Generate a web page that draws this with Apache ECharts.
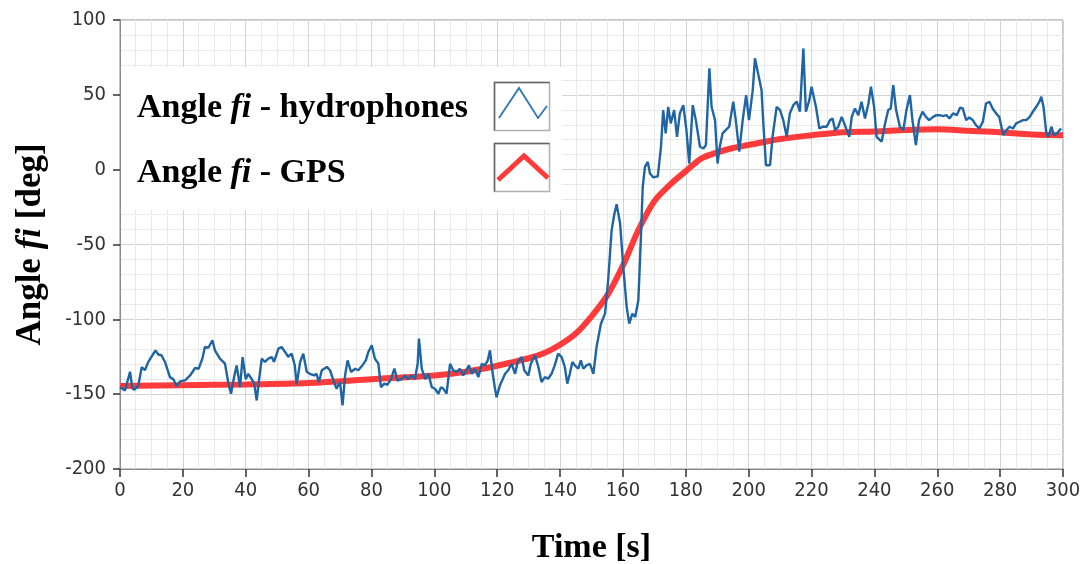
<!DOCTYPE html>
<html>
<head>
<meta charset="utf-8">
<script src="https://cdn.jsdelivr.net/npm/echarts@6/dist/echarts.min.js"></script>
<style>html,body{margin:0;padding:0;background:#fff;}#chart{width:1086px;height:564px;}</style>
</head>
<body>
<div id="chart"></div>
<script>
// ---- Data ----
var xTicks = [0, 20, 40, 60, 80, 100, 120, 140, 160, 180, 200, 220, 240, 260, 280, 300];
var yTicks = [-200, -150, -100, -50, 0, 50, 100];

var hydroT = [0,1.6,3.2,3.9,4.6,5.8,6.9,7.9,9,10.6,11.3,12.2,13.2,14.3,15.9,17,18,19.1,20.7,22.3,23.9,25,26.2,27,28.1,29.4,30.2,31.8,33.4,34.5,35.3,36.4,37.1,38.2,39,40,40.8,41.9,42.7,43.5,44.2,45.1,46.1,47.2,48.3,49,50.4,51.4,52.5,53.5,54.6,55.6,56.2,57.3,58.3,59.4,60.4,61.8,
62.5,63.3,64.2,65.8,66.8,67.9,68.9,70,70.8,71.6,72.4,73.5,74.8,75.8,77.1,78.2,79,80.1,81.1,82.2,83,84.1,85.1,86.2,87.3,88.3,89.6,90.7,91.7,92.8,93.8,94.7,95.1,96,97.1,98.1,99.2,100.2,101.3,102.1,102.9,103.9,105,106,107.1,108.1,109.2,110.2,111,111.9,112.9,114,115.1,116.1,117,117.7,118.5,119.3,119.8,
120.9,122.5,123.5,124.6,125.7,126.5,127.8,128.6,129.9,130.7,132,133.1,134.1,135.2,136.2,137.3,138.3,139.4,140.5,141.5,142.3,143.1,143.9,144.7,145.8,146.6,147.4,148.4,149.5,150.6,151.6,153,154.3,155.3,156.4,157.3,158,159.1,160.1,161.2,162,163,163.9,164.9,165.6,166.3,167,167.9,168.6,169.7,171.1,172.1,172.8,173.6,174.4,175.2,176.3,177.2,178.1,179.2,180.2,181.1,
182.2,183.2,184.5,185.6,186.4,187.5,188.2,189.3,190.1,190.8,191.7,192.7,193.8,195.1,195.9,197,198.1,199.2,200.1,201.3,202,203.1,204.1,204.6,205.5,206.8,207.6,208.9,210,211,212.1,213.1,214.2,215.3,216.3,217.4,218.2,219.3,220,221.4,222.5,223.5,224.8,225.9,226.7,227.5,228.5,229.6,230.4,231.2,232,232.8,233.8,234.9,235.9,237,238.1,238.9,239.9,240.7,242.3,
243.4,244.4,245.2,246,246.9,248.1,249.2,250.2,251.3,252.1,253.2,254.2,255.3,256.4,257.4,258.7,259.7,260.8,261.8,262.9,263.9,265,266.2,267.3,268.1,269.2,270.2,271.3,272.3,273.4,274.5,275.5,276.6,277.6,278.7,279.7,281,282,283,284.1,285.1,286.2,287.3,288.3,289.4,290.4,291.5,292.5,293.1,293.8,294.7,295.4,296.3,297.1,298.1,298.9,299.4];

var hydroV = [-145.3,-147.5,-135,-146,-147,-144.5,-132,-134,-128.5,-123,-120.7,-123.5,-124,-128.5,-138.6,-140,-144.8,-141.5,-140.8,-137.5,-132.5,-133,-126.3,-118.5,-119,-114,-120.7,-126.3,-129.6,-143,-149.7,-137.5,-130.8,-145.3,-125.2,-140,-136.4,-140,-143,-154.2,-141,-126.3,-128.5,-126.3,-125.2,-128.5,-119.6,-118.5,-121.8,-125,-122.9,-130.8,-143.7,-128.5,-122.9,-135,-136.4,-137.5,
-136.4,-141.9,-134,-131.8,-134,-140.8,-146.4,-141.9,-157.5,-137.5,-127.4,-135.2,-133,-134,-130.8,-127.4,-121.8,-117.4,-126.3,-129.6,-145.3,-143,-143.7,-140,-132.9,-141,-140,-137.5,-140,-137.5,-140,-129.7,-112.9,-133,-140,-136.4,-145.3,-146.4,-149.7,-145.3,-146.4,-149.7,-129.7,-134,-135.2,-133,-137.5,-134,-130.8,-136.4,-133,-138.6,-129.7,-130.8,-127.4,-120.7,-135.2,-146.4,-152,
-144,-136.4,-134,-129.7,-136.4,-128.5,-125.2,-134,-137.5,-129.7,-124.1,-131.8,-141.9,-138.6,-139.7,-136.4,-130.8,-122.9,-125.2,-131.8,-143,-136.4,-128.5,-130.8,-133,-127.4,-133,-130.8,-129.7,-136.4,-118.5,-102.9,-96.2,-73.9,-40.5,-29.3,-23.1,-36,-65,-91.8,-102.9,-96.2,-98.5,-87.3,-51.6,-11.5,1.9,5.2,-2.5,-5.2,-4.4,15.3,39.8,24.2,42,30.9,39.8,21.9,37.5,43.1,26.4,4.1,
43.1,33.1,15.3,14.2,16.4,67.7,42,33.1,4.1,15.3,24.2,26.4,28.7,45.4,33.1,12,33.1,49.8,33.1,53.1,74.4,63.2,53.1,33.1,3,3,22,42,39.8,33.1,22,37.6,43.1,45.4,38.7,81,38.7,46.5,55.4,42,27.5,28.7,28.7,33.1,34.2,26.4,28.7,35.3,30.9,26.4,22,35.3,40.9,36.4,45.4,34.2,44.2,55.4,42,21.9,18.7,
30.9,39.8,40.9,56.5,39.8,28.7,26.4,39.8,49.8,33.1,16.4,33.1,38.7,35.3,33.1,35.3,36.4,36.4,35.8,36.4,34.2,37.6,36.4,41.5,40.9,33.1,34.9,33.1,29.8,27.5,32,44.2,45.4,40.9,37.6,35.3,23.1,26.4,28.7,27.5,30.9,32,33.1,33.1,35.3,38.7,42,45.4,48.7,42,24.2,22,28.7,23.1,24.2,26.4,27.5];

var gpsT = [0,20,40,60,80,100,110,120,130,135,140,145,150,155,160,165,170,175,180,185,190,195,200,210,220,230,240,250,260,270,280,290,300];
var gpsV = [-144.5,-144,-143.5,-142.5,-140,-137.5,-135,-131,-126,-122.5,-117,-109.5,-98,-84,-64,-40,-21,-10,-1,7.5,11.5,14.5,16.5,20.5,23,25,25.5,26.5,27,26,25,23.5,23];

var seriesNames = ['Angle fi - hydrophones', 'Angle fi - GPS'];

function pairs(t, v) { var out = []; for (var i = 0; i < t.length; i++) out.push([t[i], v[i]]); return out; }

var serif = '"Liberation Serif", "Times New Roman", serif';
var sans = '"DejaVu Sans Condensed", "Liberation Sans Narrow", "DejaVu Sans", Tahoma, sans-serif';

var chart = echarts.init(document.getElementById('chart'), null, {renderer: 'canvas'});
chart.setOption({
  animation: false,
  backgroundColor: '#ffffff',
  grid: {left: 120, right: 23, top: 20, bottom: 95, containLabel: false, outerBoundsMode: 'none',
         show: true, borderColor: '#8a8a8a', borderWidth: 1, backgroundColor: 'transparent'},
  xAxis: {
    type: 'value', min: xTicks[0], max: xTicks[xTicks.length - 1], interval: 20,
    name: 'Time [s]', nameLocation: 'middle', nameGap: 62,
    nameTextStyle: {fontFamily: serif, fontWeight: 'bold', fontSize: 34, color: '#000'},
    axisLine: {show: true, onZero: false, lineStyle: {color: '#8a8a8a', width: 1}},
    axisTick: {show: true, length: 8, lineStyle: {color: '#333', width: 1.5}},
    axisLabel: {fontFamily: sans, fontSize: 20, color: '#333', margin: 12},
    splitLine: {show: true, lineStyle: {color: '#d3d3d3', width: 1}},
    minorTick: {show: false, splitNumber: 4},
    minorSplitLine: {show: true, lineStyle: {color: '#e9e9e9', width: 1}}
  },
  yAxis: {
    type: 'value', min: yTicks[0], max: yTicks[yTicks.length - 1], interval: 50,
    name: '{t|Angle }{i|fi}{t| [deg]}', nameLocation: 'middle', nameGap: 72, nameRotate: 90,
    nameTextStyle: {color: '#000', rich: {
      t: {fontFamily: serif, fontWeight: 'bold', fontSize: 35, color: '#000'},
      i: {fontFamily: serif, fontWeight: 'bold', fontStyle: 'italic', fontSize: 35, color: '#000'}
    }},
    axisLine: {show: true, onZero: false, lineStyle: {color: '#8a8a8a', width: 1}},
    axisTick: {show: true, length: 7, lineStyle: {color: '#333', width: 1.5}},
    axisLabel: {fontFamily: sans, fontSize: 20, color: '#333', margin: 14},
    splitLine: {show: true, lineStyle: {color: '#d3d3d3', width: 1}},
    minorTick: {show: false, splitNumber: 5},
    minorSplitLine: {show: true, lineStyle: {color: '#e9e9e9', width: 1}}
  },
  series: [
    {name: seriesNames[1], type: 'line', data: pairs(gpsT, gpsV), showSymbol: false, smooth: 0.3,
     lineStyle: {color: '#ff3a3a', width: 6}, z: 2},
    {name: seriesNames[0], type: 'line', data: pairs(hydroT, hydroV), showSymbol: false,
     lineStyle: {color: '#1f65a3', width: 2.4}, z: 3}
  ],
  graphic: [
    {type: 'rect', shape: {x: 121, y: 67, width: 441, height: 143}, style: {fill: '#ffffff'}, z: 10},
    {type: 'text', x: 137, y: 108, z: 11, style: {
      text: '{t|Angle }{i|fi}{t| - hydrophones}', verticalAlign: 'middle', align: 'left',
      rich: {t: {fontFamily: serif, fontWeight: 'bold', fontSize: 34, fill: '#000'},
             i: {fontFamily: serif, fontWeight: 'bold', fontStyle: 'italic', fontSize: 34, fill: '#000'}}}},
    {type: 'text', x: 137, y: 173, z: 11, style: {
      text: '{t|Angle }{i|fi}{t| - GPS}', verticalAlign: 'middle', align: 'left',
      rich: {t: {fontFamily: serif, fontWeight: 'bold', fontSize: 34, fill: '#000'},
             i: {fontFamily: serif, fontWeight: 'bold', fontStyle: 'italic', fontSize: 34, fill: '#000'}}}},
    {type: 'rect', shape: {x: 494.5, y: 82.5, width: 55, height: 48}, style: {fill: '#fff', stroke: '#b0b0b0', lineWidth: 1.5}, z: 11},
    {type: 'polyline', shape: {points: [[494.5, 130.5], [494.5, 82.5], [549.5, 82.5]]}, style: {stroke: '#666', lineWidth: 1.5, fill: null}, z: 12},
    {type: 'polyline', shape: {points: [[499, 118], [519, 88], [538, 118], [547, 106]]}, style: {stroke: '#2f76b3', lineWidth: 1.8, fill: null}, z: 12},
    {type: 'rect', shape: {x: 494.5, y: 143.5, width: 55, height: 48}, style: {fill: '#fff', stroke: '#b0b0b0', lineWidth: 1.5}, z: 11},
    {type: 'polyline', shape: {points: [[494.5, 191.5], [494.5, 143.5], [549.5, 143.5]]}, style: {stroke: '#666', lineWidth: 1.5, fill: null}, z: 12},
    {type: 'polyline', shape: {points: [[498, 180], [524, 156], [548, 178]]}, style: {stroke: '#ff3a3a', lineWidth: 5, fill: null}, z: 12}
  ]
});
</script>
</body>
</html>
